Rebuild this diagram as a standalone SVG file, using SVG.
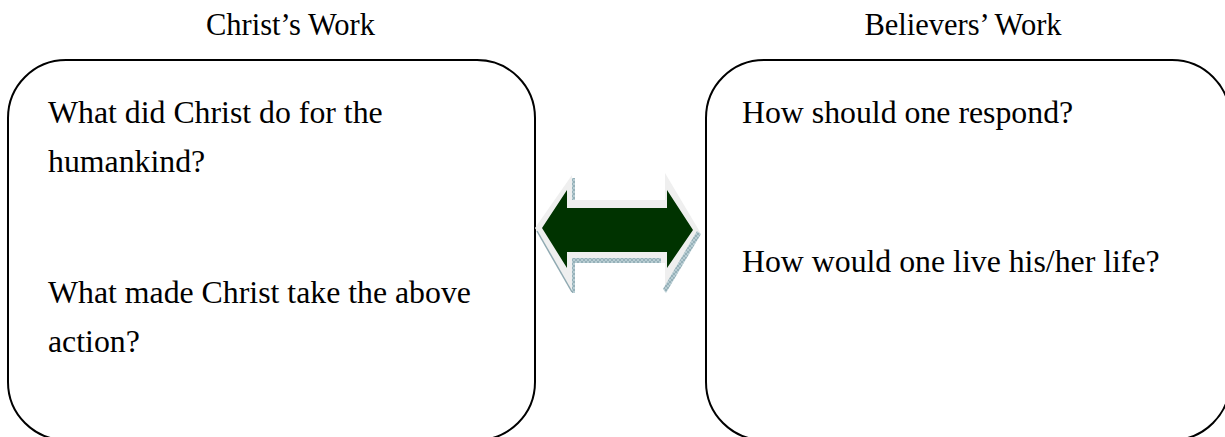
<svg xmlns="http://www.w3.org/2000/svg" width="1225" height="437" viewBox="0 0 1225 437">
<style>
.box{fill:#ffffff;stroke:#000000;stroke-width:2}
.t{font-family:"Liberation Serif","Times New Roman",serif;fill:#000000}
.title{font-size:30.5px}
.body{font-size:31.8px}
.shade{fill:url(#hatch)}
</style>
<defs>
<pattern id="hatch" width="4" height="4" patternUnits="userSpaceOnUse">
<rect width="4" height="4" fill="#b8cdd3"/>
<path d="M0 0L4 4M4 0L0 4" stroke="#7f9ea8" stroke-width="0.6"/>
</pattern>
</defs>
<rect width="1225" height="437" fill="#ffffff"/>
<text class="t title" x="290.5" y="35" text-anchor="middle">Christ’s Work</text>
<text class="t title" x="963" y="35" text-anchor="middle">Believers’ Work</text>
<g id="christ-work">
<rect class="box" x="8" y="60" width="527" height="380" rx="58" ry="58"/>
<text class="t body" x="48" y="123">What did Christ do for the</text>
<text class="t body" x="48" y="172">humankind?</text>
<text class="t body" x="48" y="303">What made Christ take the above</text>
<text class="t body" x="48" y="352">action?</text>
</g>
<g id="believers-work">
<rect class="box" x="706" y="60" width="524" height="380" rx="58" ry="58"/>
<text class="t body" x="742" y="123">How should one respond?</text>
<text class="t body" x="742" y="272">How would one live his/her life?</text>
</g>
<g id="connectors">
<g id="double-arrow">
<polygon points="535,228 572,175 572,200 665,200 665,173 700,232 665,292 665,263 573,263 573,293" fill="#efefef"/>
<rect class="shade" x="572" y="178" width="3" height="22"/>
<rect class="shade" x="573" y="258" width="88" height="5"/>
<rect class="shade" x="572" y="258" width="3" height="35"/>
<line x1="537" y1="231" x2="572" y2="292" stroke="#8fa9b1" stroke-width="1.5"/>
<polygon class="shade" points="701,234 666,293 663,289 697,231"/>
<polygon points="542,228 567,190 567,208 667,208 667,190 693,230 667,268 667,252 567,252 567,268" fill="#003300"/>
</g>
</g>
</svg>
